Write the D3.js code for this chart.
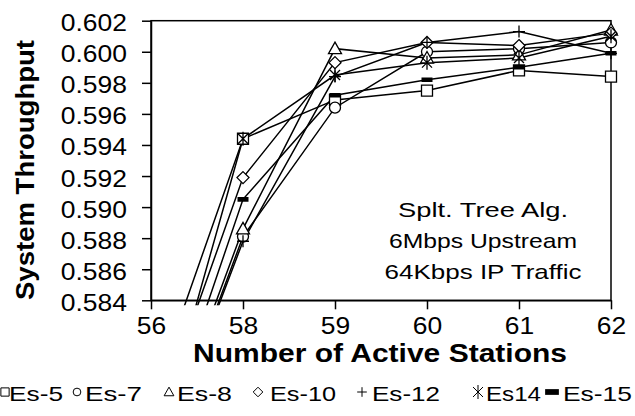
<!DOCTYPE html>
<html>
<head>
<meta charset="utf-8">
<script src="https://cdn.jsdelivr.net/npm/d3@7"></script>
<style>
  body { margin: 0; background: #fff; }
  svg { display: block; }
  text { font-family: Arial, "Liberation Sans", sans-serif; fill: #000; }
</style>
</head>
<body>
<div id="chart-area"></div>
<script>
// data
const stations = [56, 58, 59, 60, 61, 62]
const yTicks = [0.584, 0.586, 0.588, 0.590, 0.592, 0.594, 0.596, 0.598, 0.600, 0.602]
const seriesNames = ['Es-5', 'Es-7', 'Es-8', 'Es-10', 'Es-12', 'Es14', 'Es-15']
const es5  = [0.5775, 0.5944, 0.5969, 0.5975, 0.5988, 0.5984]
const es7  = [0.5722, 0.5881, 0.5964, 0.6000, 0.6002, 0.6006]
const es8  = [0.5726, 0.5886, 0.6002, 0.5996, 0.5998, 0.6014]
const es10 = [0.5752, 0.5919, 0.5993, 0.6006, 0.6004, 0.6012]
const es12 = [0.5722, 0.5878, 0.5984, 0.6006, 0.6013, 0.5999]
const es14 = [0.5734, 0.5944, 0.5985, 0.5993, 0.5996, 0.6010]
const es15 = [0.5731, 0.5905, 0.5972, 0.5982, 0.5990, 0.5999]
const noteLines = ['Splt. Tree Alg.', '6Mbps Upstream', '64Kbps IP Traffic']

const markerTypes = ['square', 'circle', 'triangle', 'diamond', 'plus', 'star', 'dash']
const series = [es5, es7, es8, es10, es12, es14, es15].map((vals, i) => ({
  name: seriesNames[i],
  marker: markerTypes[i],
  points: vals.map((v, j) => ({ s: stations[j], v: v }))
}))

const margin = { left: 151, top: 20.7, right: 24, bottom: 115.7 }
const width = 635 - margin.left - margin.right
const height = 416 - margin.top - margin.bottom

const svg = d3.select('#chart-area').append('svg')
  .attr('width', 635)
  .attr('height', 416)

const g = svg.append('g')
  .attr('transform', `translate(${margin.left},${margin.top})`)

const x = d3.scalePoint()
  .domain(stations)
  .range([0, width])

const y = d3.scaleLinear()
  .domain([0.584, 0.602])
  .range([height, 0])

// marker paths, centred on 0,0
function markerPath(type, k) {
  const s = 5.5 * k
  switch (type) {
    case 'square': return `M${-s},${-s}H${s}V${s}H${-s}Z`
    case 'circle': return `M${s},0A${s},${s} 0 1,1 ${-s},0A${s},${s} 0 1,1 ${s},0Z`
    case 'triangle': return `M0,${-6.5 * k}L${6.5 * k},${5 * k}L${-6.5 * k},${5 * k}Z`
    case 'diamond': return `M0,${-6 * k}L${6 * k},0L0,${6 * k}L${-6 * k},0Z`
    case 'plus': return `M${-6 * k},0H${6 * k}M0,${-6 * k}V${6 * k}`
    case 'star': return `M${-5 * k},${-5 * k}L${5 * k},${5 * k}M${-5 * k},${5 * k}L${5 * k},${-5 * k}M0,${-7 * k}V${7 * k}`
    case 'dash': return `M${-5.5 * k},${-2.3 * k}H${5.5 * k}V${2.3 * k}H${-5.5 * k}Z`
  }
}
const filled = t => t === 'dash' ? '#000' : (t === 'plus' || t === 'star' ? 'none' : '#fff')

// axes
const axisLeft = d3.axisLeft(y)
  .tickValues(yTicks)
  .tickSize(9)
  .tickSizeOuter(0)
  .tickPadding(12)
  .tickFormat(d3.format('.3f'))

const axisBottom = d3.axisBottom(x)
  .tickSize(9)
  .tickSizeOuter(0)

const yAxis = g.append('g')
  .attr('class', 'y-axis')
  .call(axisLeft)
yAxis.selectAll('text')
  .attr('font-size', '23px')
  .attr('dy', '10px')
  .attr('transform', 'scale(1.15,1)')

const xAxis = g.append('g')
  .attr('class', 'x-axis')
  .attr('transform', `translate(0,${height})`)
  .call(axisBottom)
xAxis.selectAll('text')
  .attr('font-size', '23px')
  .attr('y', 33.5)
  .attr('dy', 0)
  .attr('transform', 'scale(1.15,1)')

g.selectAll('.domain, .tick line')
  .attr('stroke', '#000')
  .attr('stroke-width', 1.5)

// plot area border
g.append('rect')
  .attr('width', width)
  .attr('height', height)
  .attr('fill', 'none')
  .attr('stroke', '#000')
  .attr('stroke-width', 1.5)

// lines and markers, clipped just under the bottom axis
svg.append('clipPath')
  .attr('id', 'plot-clip')
  .append('rect')
  .attr('x', -8)
  .attr('y', -10)
  .attr('width', width + 16)
  .attr('height', height + 15)

const plot = g.append('g').attr('clip-path', 'url(#plot-clip)')

const line = d3.line()
  .x(d => x(d.s))
  .y(d => y(d.v))

plot.selectAll('.series-line')
  .data(series)
  .enter()
  .append('path')
  .attr('class', 'series-line')
  .attr('d', d => line(d.points))
  .attr('fill', 'none')
  .attr('stroke', '#000')
  .attr('stroke-width', 1.5)

series.forEach(sr => {
  plot.selectAll(null)
    .data(sr.points.filter(p => p.v >= 0.5835))
    .enter()
    .append('path')
    .attr('transform', d => `translate(${x(d.s)},${y(d.v)})`)
    .attr('d', markerPath(sr.marker, 1))
    .attr('fill', filled(sr.marker))
    .attr('stroke', '#000')
    .attr('stroke-width', sr.marker === 'dash' ? 0 : 1.3)
})

// note text inside the plot
const noteWidths = [170, 188, 197]
noteLines.forEach((t, i) => {
  svg.append('text')
    .attr('x', 483)
    .attr('y', 217 + i * 31)
    .attr('text-anchor', 'middle')
    .attr('font-size', '21px')
    .attr('textLength', noteWidths[i])
    .attr('lengthAdjust', 'spacingAndGlyphs')
    .text(t)
})

// axis titles
svg.append('text')
  .attr('x', 380)
  .attr('y', 362)
  .attr('text-anchor', 'middle')
  .attr('font-size', '25px')
  .attr('font-weight', 'bold')
  .attr('textLength', 374)
  .attr('lengthAdjust', 'spacingAndGlyphs')
  .text('Number of Active Stations')

svg.append('text')
  .attr('transform', 'translate(34,170) rotate(-90)')
  .attr('text-anchor', 'middle')
  .attr('font-size', '25px')
  .attr('font-weight', 'bold')
  .attr('textLength', 260)
  .attr('lengthAdjust', 'spacingAndGlyphs')
  .text('System Throughput')

// legend
const legendSym = [5, 77, 169, 258, 362, 478, 552]
const legendScale = [0.75, 0.7, 0.75, 0.8, 0.8, 1.0, 1.25]
const legendText = [[9, 54], [85, 57], [177, 55], [270, 66], [372, 68], [486, 55], [563, 69]]
const legend = svg.append('g').attr('class', 'legend')
series.forEach((sr, i) => {
  legend.append('path')
    .attr('transform', `translate(${legendSym[i]},392)`)
    .attr('d', markerPath(sr.marker, legendScale[i]))
    .attr('fill', filled(sr.marker))
    .attr('stroke', '#000')
    .attr('stroke-width', sr.marker === 'dash' ? 0 : 1)
  legend.append('text')
    .attr('x', legendText[i][0])
    .attr('y', 401)
    .attr('font-size', '21px')
    .attr('textLength', legendText[i][1])
    .attr('lengthAdjust', 'spacingAndGlyphs')
    .text(sr.name)
})
</script>
</body>
</html>
